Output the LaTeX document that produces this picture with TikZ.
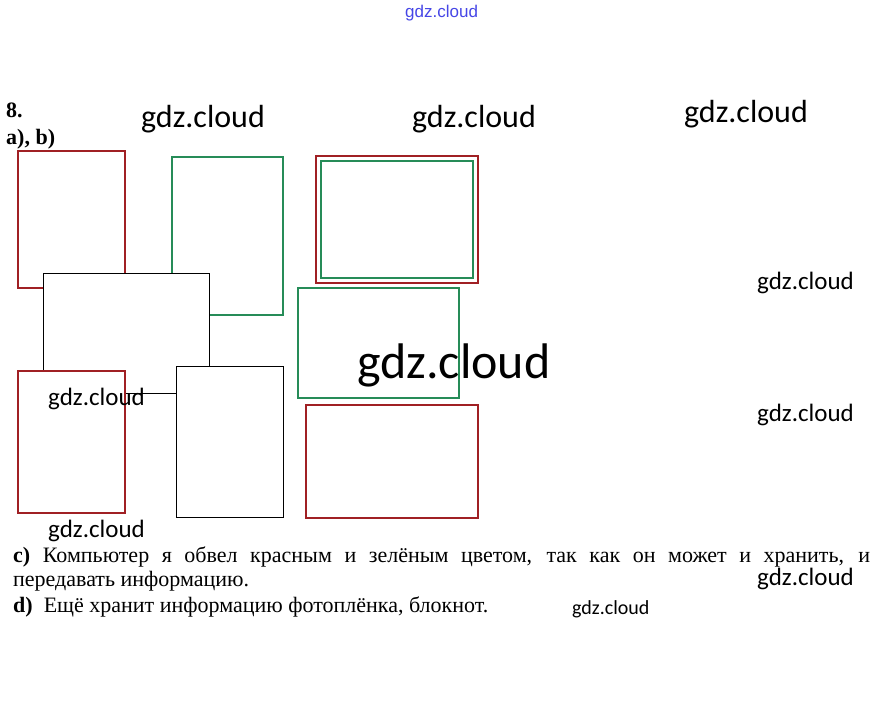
\documentclass[tikz,border=0pt]{standalone}
\usepackage{fontspec}
\setmainfont{Liberation Serif}
\newfontfamily\wmfont{Carlito}
\newfontfamily\topfont{Liberation Sans}
\definecolor{boxred}{RGB}{160,32,36}
\definecolor{boxgreen}{RGB}{38,140,88}
\definecolor{topblue}{RGB}{70,70,230}
\begin{document}
\begin{tikzpicture}[
    x=1pt, y=-1pt,
    frame/.style={draw=#1, rectangle, fill=white, inner sep=0pt, outer sep=0pt, anchor=north west, line width=2.4pt},
    plain frame/.style={draw=black, rectangle, fill=white, inner sep=0pt, outer sep=0pt, anchor=north west, line width=0.8pt},
    wm/.style={font=\wmfont\fontsize{#1}{#1}\selectfont, inner sep=0pt, anchor=base west},
    line/.style={font=\fontsize{22}{24}\selectfont, inner sep=0pt, anchor=base west}
]
\useasboundingbox (0,0) rectangle (887,718);
% Frames round the objects
\node [frame=boxred, minimum width=107pt, minimum height=137pt] (redA) at (18,151) {};
\node [frame=boxgreen, minimum width=111pt, minimum height=158pt] (greenA) at (172,157) {};
\node [frame=boxred, minimum width=162pt, minimum height=127pt] (redB) at (316,156) {};
\node [frame=boxgreen, minimum width=152pt, minimum height=117pt] (greenB) at (321,161) {};
\node [plain frame, minimum width=166pt, minimum height=120pt] (blackA) at (43,273) {};
\node [frame=boxgreen, minimum width=161pt, minimum height=110pt] (greenC) at (298,288) {};
\node [frame=boxred, minimum width=107pt, minimum height=142pt] (redC) at (18,371) {};
\node [plain frame, minimum width=107pt, minimum height=151pt] (blackB) at (176,366) {};
\node [frame=boxred, minimum width=172pt, minimum height=113pt] (redD) at (306,405) {};

% Task labels
\node [font=\bfseries\fontsize{22}{22}\selectfont, inner sep=0pt, anchor=base west] (num) at (6,117) {8.};
\node [font=\bfseries\fontsize{22}{22}\selectfont, inner sep=0pt, anchor=base west] (parts) at (6,144) {a), b)};

% Answer text
\node [line] (lineC) at (13,562) {\makebox[857pt][s]{\textbf{c)} Компьютер я обвел красным и зелёным цветом, так как он может и хранить, и}};
\node [line] (lineC2) at (13,586) {передавать информацию.};
\node [line] (lineD) at (13,612) {\textbf{d)}\ \ Ещё хранит информацию фотоплёнка, блокнот.};

% Watermarks
\node [font=\topfont\fontsize{17}{17}\selectfont, text=topblue, inner sep=0pt, anchor=base west] (wmTop) at (405,17) {gdz.cloud};
\node [wm=32] (wmA) at (141,127) {gdz.cloud};
\node [wm=32] (wmB) at (412,127) {gdz.cloud};
\node [wm=32] (wmC) at (684,122) {gdz.cloud};
\node [wm=50] (wmD) at (357,378) {gdz.cloud};
\node [wm=25] (wmE) at (757,289) {gdz.cloud};
\node [wm=25] (wmF) at (48,405) {gdz.cloud};
\node [wm=25] (wmG) at (757,421) {gdz.cloud};
\node [wm=25] (wmH) at (48,537) {gdz.cloud};
\node [wm=25] (wmI) at (757,585) {gdz.cloud};
\node [wm=20] (wmJ) at (572,614) {gdz.cloud};
\end{tikzpicture}
\end{document}
